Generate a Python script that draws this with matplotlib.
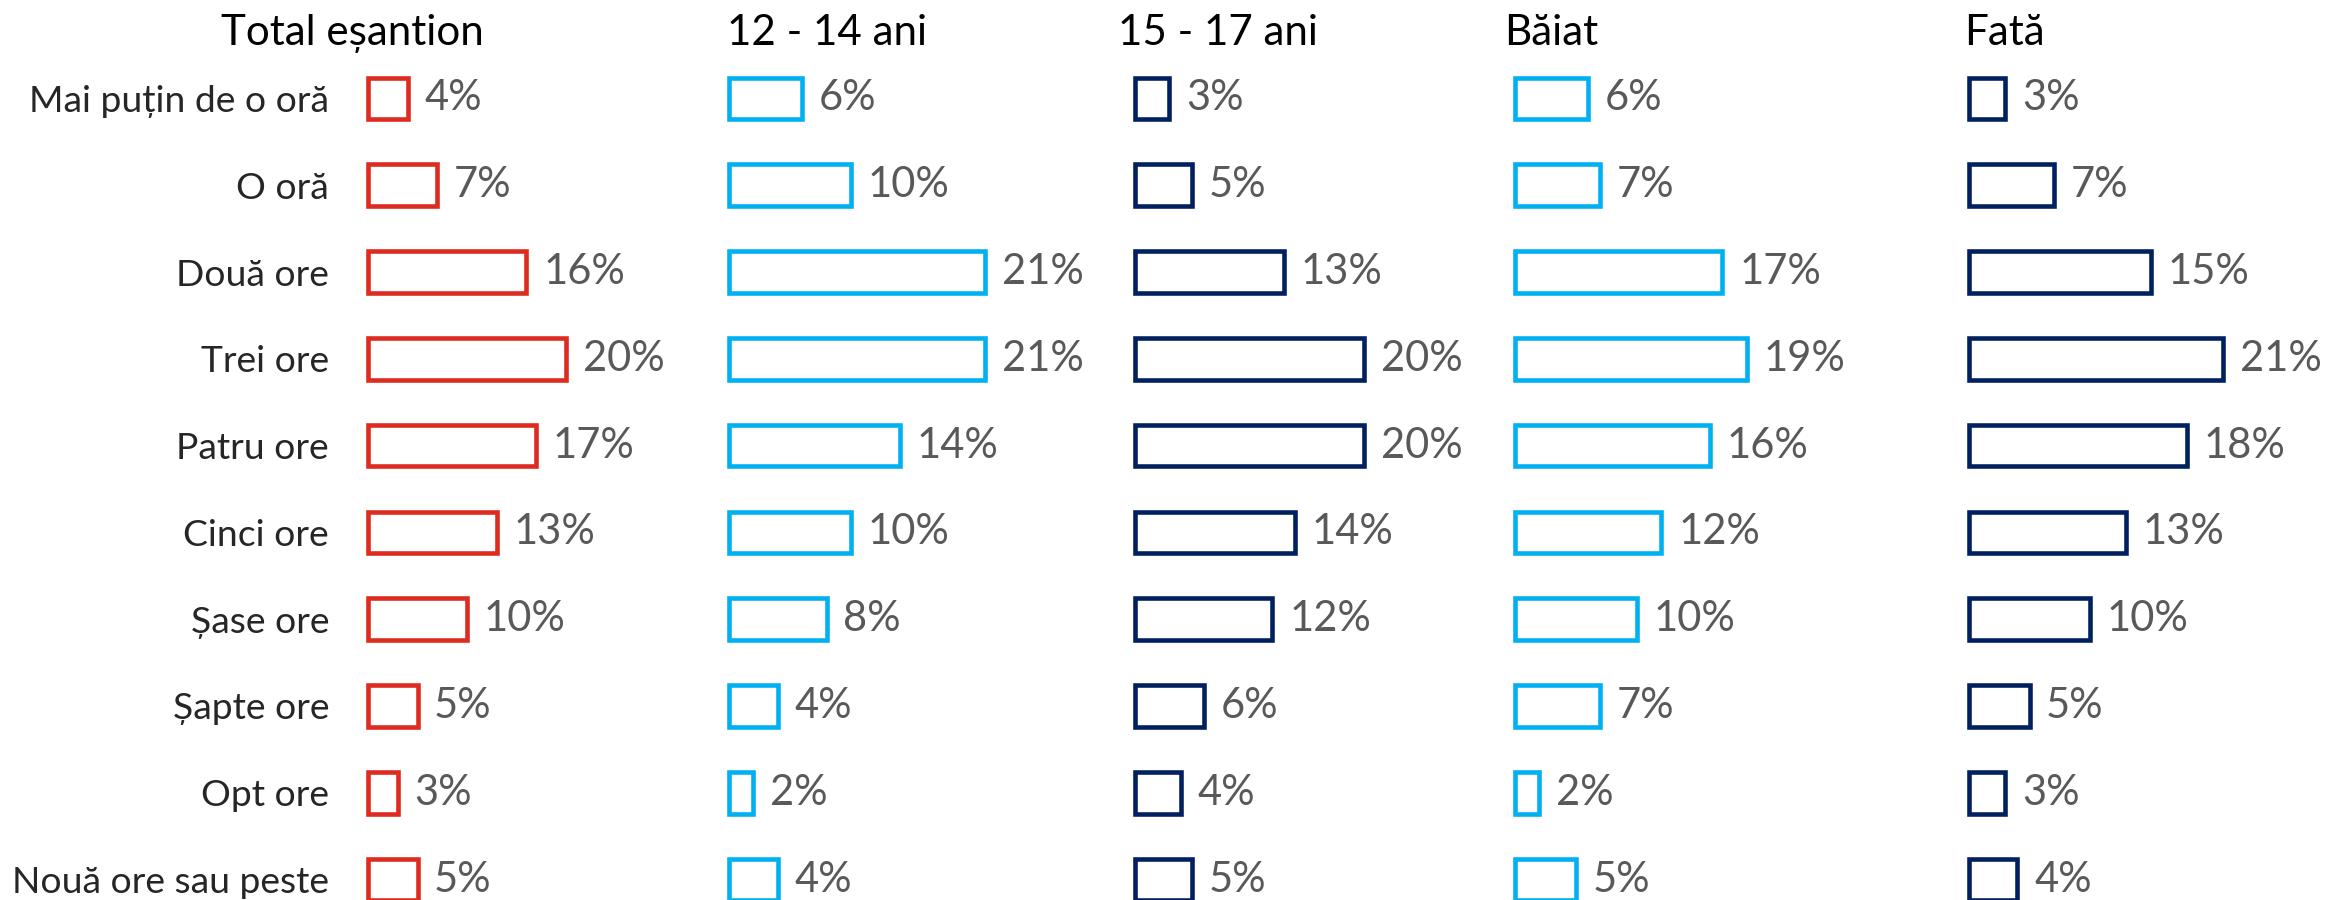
import matplotlib
matplotlib.use("Agg")
import matplotlib.pyplot as plt

categories = ["Mai puțin de o oră", "O oră", "Două ore", "Trei ore", "Patru ore",
              "Cinci ore", "Șase ore", "Șapte ore", "Opt ore", "Nouă ore sau peste"]
groups = ["Total eșantion", "12 - 14 ani", "15 - 17 ani", "Băiat", "Fată"]
total = [4, 7, 16, 20, 17, 13, 10, 5, 3, 5]
age_12_14 = [6, 10, 21, 21, 14, 10, 8, 4, 2, 4]
age_15_17 = [3, 5, 13, 20, 20, 14, 12, 6, 4, 5]
boys = [6, 7, 17, 19, 16, 12, 10, 7, 2, 5]
girls = [3, 7, 15, 21, 18, 13, 10, 5, 3, 4]

series = [total, age_12_14, age_15_17, boys, girls]
colors = ["#DE2B1F", "#00B0F0", "#002060", "#00B0F0", "#002060"]

plt.rcParams["font.family"] = ["Lato", "DejaVu Sans"]

W, H = 2325, 900
fig = plt.figure(figsize=(W / 100, H / 100), dpi=100)

# panel layout in pixels: bar start, pixels per percent, title x / alignment
bar_left = [368, 729, 1135, 1515, 1969]
px_per_pct = [9.9, 12.2, 11.45, 12.2, 12.1]
title_pos = [(352, "center"), (727, "left"), (1118, "left"), (1504, "left"), (1964, "left")]
ax_w = 330

row_px = 86.78
first_row = 98.5
y_top = -first_row / row_px
y_bot = y_top + H / row_px

for k, (vals, col) in enumerate(zip(series, colors)):
    ax = fig.add_axes([bar_left[k] / W, 0, ax_w / W, 1])
    ax.set_xlim(0, ax_w / px_per_pct[k])
    ax.set_ylim(y_bot, y_top)
    ypos = list(range(len(categories)))
    ax.barh(ypos, vals, height=0.48, color="white", edgecolor=col,
            linewidth=3.3, clip_on=False)
    for y, v in zip(ypos, vals):
        ax.annotate(f"{v}%", (v, y), xytext=(12, 0), textcoords="offset points",
                    va="center", ha="left", fontsize=30, color="#595959")
    for s in ax.spines.values():
        s.set_visible(False)
    ax.set_xticks([])
    if k == 0:
        ax.set_yticks(ypos)
        ax.set_yticklabels(categories, fontsize=26.8, color="#262626")
        ax.tick_params(axis="y", length=0, pad=28)
    else:
        ax.set_yticks([])
    tx, ha = title_pos[k]
    fig.text(tx / W, 1 - 45 / H, groups[k], ha=ha, va="baseline",
             fontsize=30.3, color="black")

fig.savefig("out.png", dpi=100)
